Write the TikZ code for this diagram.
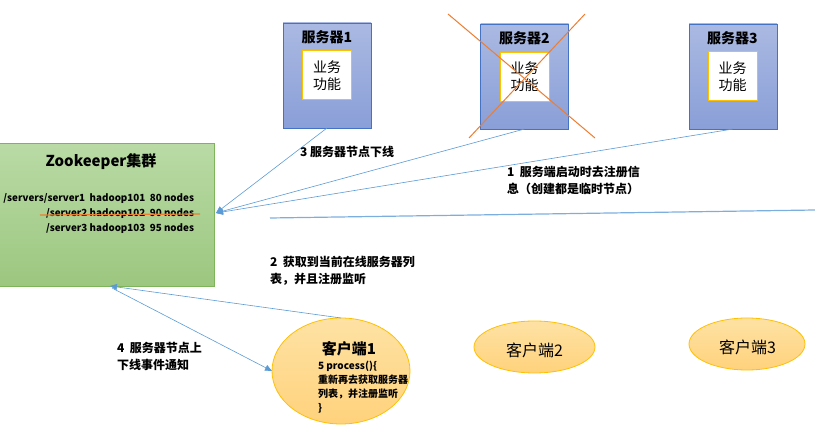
\documentclass[tikz,border=0pt]{standalone}
\usepackage{fontspec}
\setmainfont{Noto Sans CJK SC}
\usetikzlibrary{arrows.meta,shapes.geometric,shadings}
\definecolor{zktop}{HTML}{B9DAA5}
\definecolor{zkbot}{HTML}{9CC77F}
\definecolor{zkline}{HTML}{7FB55A}
\definecolor{srvtop}{HTML}{AAB9E2}
\definecolor{srvbot}{HTML}{8A9FD8}
\definecolor{srvline}{HTML}{4472C4}
\definecolor{gold}{HTML}{FFC000}
\definecolor{cltop}{HTML}{FEE2A4}
\definecolor{clbot}{HTML}{FFD27C}
\definecolor{clline}{HTML}{FFC000}
\definecolor{connblue}{HTML}{5B9BD5}
\definecolor{xorange}{HTML}{ED7D31}
\begin{document}
\begin{tikzpicture}[x=1pt,y=-1pt,
  every node/.style={inner sep=0pt, outer sep=0pt},
  zkbox/.style={draw=zkline, line width=1pt, top color=zktop, bottom color=zkbot, minimum width=217pt, minimum height=143pt},
  srvbox/.style={draw=srvline, line width=0.8pt, top color=srvtop, bottom color=srvbot, minimum width=88pt, minimum height=105pt},
  funcbox/.style={draw=gold, line width=1pt, fill=white, minimum width=49pt, minimum height=49pt, align=center, font=\fontsize{14}{17}\selectfont},
  srvtitle/.style={font=\bfseries\fontsize{14}{17}\selectfont},
  client/.style={ellipse, draw=clline, line width=0.8pt, top color=cltop, bottom color=clbot},
  conn/.style={draw=connblue, line width=0.6pt},
  arr/.style={conn, -{Triangle[length=7pt,width=6pt]}},
  strikeline/.style={draw=xorange, line width=1.2pt},
  crossline/.style={draw=xorange, line width=1pt},
  lbl/.style={font=\bfseries\fontsize{12}{17.5}\selectfont, align=left, anchor=north west},
  zkl/.style={font=\bfseries\fontsize{9.8}{13}\selectfont, anchor=east},
]
\useasboundingbox (0,0) rectangle (815,430);

% Zookeeper cluster
\node[zkbox] (zk) at (105.5,215.5) {};
\node[font=\bfseries\fontsize{15}{18}\selectfont] (zkt) at (101,162) {Zookeeper集群};
\node[zkl] (zl1) at (194,199) {/servers/server1\ \ hadoop101\ \ 80 nodes};
\node[zkl] (zl2) at (194,214) {/server2 hadoop102\ \ 90 nodes};
\node[zkl] (zl3) at (194,229) {/server3 hadoop103\ \ 95 nodes};
\coordinate (st1) at (40,215);
\coordinate (st2) at (200,214);
\draw[strikeline] (st1) -- (st2);

% Servers
\node[srvbox] (s1) at (327,75.5) {};
\node[funcbox] (f1) at (327,75.5) {业务\\功能};
\node[srvtitle] (t1) at (327,37) {服务器1};

\node[srvbox] (s2) at (524.5,76.5) {};
\node[funcbox] (f2) at (524.5,77) {业务\\功能};
\node[srvtitle] (t2) at (524.5,38) {服务器2};

\node[srvbox] (s3) at (733,76.5) {};
\node[funcbox] (f3) at (732.5,76.5) {业务\\功能};
\node[srvtitle] (t3) at (732.5,38) {服务器3};

% cross over server 2
\coordinate (xa1) at (448,14);
\coordinate (xa2) at (595,138);
\coordinate (xb1) at (585,14);
\coordinate (xb2) at (469,138);
\draw[crossline] (xa1) -- (xa2);
\draw[crossline] (xb1) -- (xb2);

% Clients
\node[client, minimum width=138pt, minimum height=106pt] (c1) at (341,371) {};
\node[font=\bfseries\fontsize{15}{18}\selectfont] (c1t) at (349,349) {客户端1};
\node[font=\bfseries\fontsize{10}{14}\selectfont, align=left, anchor=north west] (c1b) at (318,361) {5 process()\{\\重新再去获取服务器\\列表，并注册监听\\\}};
\node[client, minimum width=121pt, minimum height=52pt] (c2) at (534.5,347) {};
\node[font=\fontsize{16}{19}\selectfont] (c2t) at (534.5,350) {客户端2};
\node[client, minimum width=116pt, minimum height=52pt] (c3) at (747,344) {};
\node[font=\fontsize{16}{19}\selectfont] (c3t) at (747.5,347) {客户端3};

% connectors
\coordinate (zkin) at (216,213);
\draw[arr] (s1.south) -- (zkin);
\draw[arr] (s2.south) -- (zkin);
\draw[arr] (s3.south) -- (zkin);
\coordinate (zkb) at (110,286);
\coordinate (zkb2) at (112,288);
\draw[arr] (c1.north) -- (zkb);
\draw[arr] (zkb2) -- (c1.west);
\coordinate (hl1) at (270,218);
\coordinate (hl2) at (815,210);
\draw[draw=connblue!80, line width=1.2pt] (hl1) -- (hl2);

% labels
\node[lbl] (l3) at (300,146) {3 服务器节点下线};
\node[lbl] (l1) at (507,166) {1\ \ 服务端启动时去注册信\\息（创建都是临时节点）};
\node[lbl] (l2) at (270,256) {2\ \ 获取到当前在线服务器列\\表，并且注册监听};
\node[lbl] (l4) at (117,342) {4\ \ 服务器节点上\\下线事件通知};
\end{tikzpicture}
\end{document}
